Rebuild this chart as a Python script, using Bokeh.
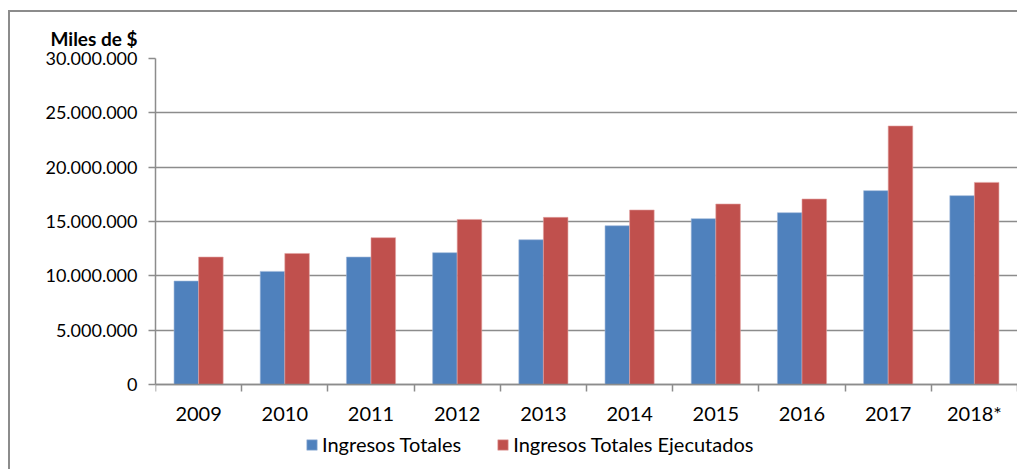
from bokeh.plotting import figure
from bokeh.models import (ColumnDataSource, FixedTicker, Range1d, Legend, LegendItem)
from bokeh.embed import file_html
from bokeh.resources import INLINE

# ---- data ----
years = ["2009", "2010", "2011", "2012", "2013", "2014", "2015", "2016", "2017", "2018*"]
ingresos_totales = [9520000, 10410000, 11730000, 12130000, 13320000,
                    14610000, 15260000, 15810000, 17840000, 17380000]
ingresos_ejecutados = [11730000, 12060000, 13510000, 15190000, 15380000,
                       16060000, 16610000, 17070000, 23790000, 18600000]
y_ticks = [0, 5000000, 10000000, 15000000, 20000000, 25000000, 30000000]
y_tick_labels = ["0", "5.000.000", "10.000.000", "15.000.000", "20.000.000",
                 "25.000.000", "30.000.000"]
series_names = ["Ingresos Totales", "Ingresos Totales Ejecutados"]
unit_label = "Miles de $"

BLUE = "#4F81BD"
RED = "#C0504D"
GRID = "#8C8C8C"
FONT = "Lato"

# layout: plotting band of 326 px for 0..30M, plus a band below for labels/legend
Y_MAX = 30000000
BAND = 326
EXTRA = 85
y_min = -Y_MAX * EXTRA / BAND

n = len(years)
centers = [i + 0.5 for i in range(n)]
bw = 0.285
src = ColumnDataSource(dict(
    xb=[c - bw / 2 for c in centers],
    xr=[c + bw / 2 for c in centers],
    tot=ingresos_totales,
    eje=ingresos_ejecutados,
))

p = figure(frame_width=862, frame_height=BAND + EXTRA,
           min_border_left=145, min_border_top=46, min_border_right=0, min_border_bottom=0,
           x_range=Range1d(0, n), y_range=Range1d(y_min, Y_MAX),
           output_backend="svg", toolbar_location=None, tools="")
p.styles = {"border-top": "2px solid #8c8c8c", "border-left": "2px solid #8c8c8c",
            "margin-top": "10px", "margin-left": "8px"}
p.outline_line_color = None
p.background_fill_color = "white"
p.border_fill_color = "white"

rb = p.vbar(x="xb", top="tot", width=bw, source=src, fill_color=BLUE,
            line_color="#9DB7DA", line_width=0.6)
rr = p.vbar(x="xr", top="eje", width=bw, source=src, fill_color=RED,
            line_color="#E3A3A1", line_width=0.6)

# title used as the unit label above the y axis
p.title.text = unit_label
p.title.align = "left"
p.title.offset = -105
p.title.standoff = 17
p.title.text_font = FONT
p.title.text_font_style = "bold"
p.title.text_font_size = "19px"
p.title.text_color = "black"

# y axis
p.yaxis.ticker = FixedTicker(ticks=y_ticks)
p.yaxis.bounds = (0, Y_MAX)
p.yaxis.major_label_overrides = {t: l for t, l in zip(y_ticks, y_tick_labels)}
p.yaxis.axis_line_color = GRID
p.yaxis.axis_line_width = 1.5
p.yaxis.major_tick_line_color = GRID
p.yaxis.major_tick_line_width = 1.5
p.yaxis.major_tick_out = 7
p.yaxis.major_tick_in = 0
p.yaxis.minor_tick_line_color = None
p.yaxis.major_label_standoff = 11
p.yaxis.major_label_text_font = FONT
p.yaxis.major_label_text_font_size = "18px"
p.yaxis.major_label_text_color = "black"

# x axis at y = 0: labels at centers, ticks at boundaries
p.xaxis.fixed_location = 0
p.xaxis.ticker = FixedTicker(ticks=centers, minor_ticks=list(range(n + 1)))
p.xaxis.major_label_overrides = {c: y for c, y in zip(centers, years)}
p.xaxis.axis_line_color = GRID
p.xaxis.axis_line_width = 1.5
p.xaxis.major_tick_line_color = None
p.xaxis.major_tick_out = 0
p.xaxis.minor_tick_line_color = GRID
p.xaxis.minor_tick_line_width = 1.5
p.xaxis.minor_tick_out = 7
p.xaxis.minor_tick_in = 0
p.xaxis.major_label_standoff = 9
p.xaxis.major_label_text_font = FONT
p.xaxis.major_label_text_font_size = "20px"
p.xaxis.major_label_text_color = "black"

p.xgrid.grid_line_color = None
p.ygrid.ticker = FixedTicker(ticks=y_ticks)
p.ygrid.grid_line_color = GRID
p.ygrid.grid_line_width = 1.5

legend = Legend(items=[LegendItem(label=series_names[0], renderers=[rb]),
                       LegendItem(label=series_names[1], renderers=[rr])],
                orientation="horizontal", location=(150, 13),
                glyph_width=13, glyph_height=13, label_standoff=4, spacing=35,
                padding=0, margin=0, border_line_color=None, background_fill_alpha=0,
                label_text_font=FONT, label_text_font_size="20px", label_text_color="black")
p.add_layout(legend, "center")

open("out.html", "w").write(file_html(p, INLINE))
